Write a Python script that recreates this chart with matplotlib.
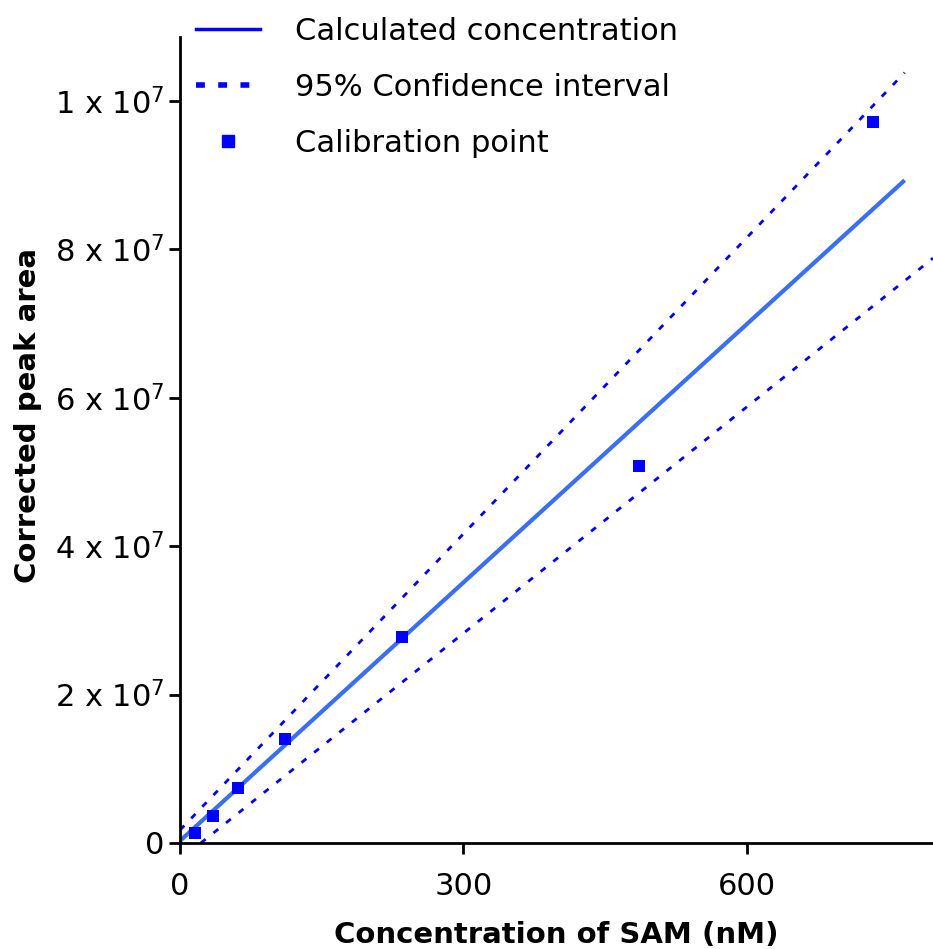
import matplotlib
matplotlib.use("Agg")
import matplotlib.pyplot as plt
from matplotlib.lines import Line2D
import numpy as np

# calibration data
sam_conc = [16, 35, 61, 111, 235, 486, 733]
peak_area = [1.35e6, 3.6e6, 7.4e6, 1.40e7, 2.78e7, 5.08e7, 9.72e7]

fit_x = [0, 767]
fit_y = [3.0e5, 8.93e7]
upper_x = [0, 767]
upper_y = [1.75e6, 1.038e8]
lower_x = [22, 797]
lower_y = [0, 7.88e7]

y_ticks = [0, 2e7, 4e7, 6e7, 8e7, 1e8]
y_tick_labels = ["0", r"2 x 10$^7$", r"4 x 10$^7$", r"6 x 10$^7$", r"8 x 10$^7$", r"1 x 10$^7$"]
x_ticks = [0, 300, 600]

plt.rcParams['font.family'] = ['DejaVu Sans']
plt.rcParams['mathtext.fontset'] = 'dejavusans'

fig = plt.figure(figsize=(9.33, 9.49), dpi=100)
ax = fig.add_axes([0.193, 0.1117, 0.807, 0.8493])

ax.plot(fit_x, fit_y, color='#3a6ef5', lw=3, solid_capstyle='butt')
dots = (0, (2.2, 3.6))
ax.plot(upper_x, upper_y, color='#0000ff', lw=2, linestyle=dots)
ax.plot(lower_x, lower_y, color='#0000ff', lw=2, linestyle=dots)
ax.scatter(sam_conc, peak_area, marker='s', s=80, color='#0000ff', zorder=3, linewidths=0)

ax.set_xlim(0, 797)
ax.set_ylim(0, 1.086e8)
ax.set_xticks(x_ticks)
ax.set_yticks(y_ticks)
ax.set_yticklabels(y_tick_labels)

for s in ['top', 'right']:
    ax.spines[s].set_visible(False)
for s in ['left', 'bottom']:
    ax.spines[s].set_linewidth(2)
ax.tick_params(axis='both', width=2, length=8, labelsize=22)
ax.tick_params(axis='x', pad=13)
ax.tick_params(axis='y', pad=3)

ax.set_xlabel('Concentration of SAM (nM)', fontsize=21, fontweight='bold', labelpad=14)
ax.set_ylabel('Corrected peak area', fontsize=21, fontweight='bold')
ax.yaxis.set_label_coords(-0.183, 0.53)

handles = [
    Line2D([], [], color='#0000ff', lw=2.5),
    Line2D([], [], color='#0000ff', lw=4, linestyle=(0, (1.6, 2.4))),
    Line2D([], [], color='#0000ff', lw=0, marker='s', markersize=8),
]
labels = ['Calculated concentration', '95% Confidence interval', 'Calibration point']
fig.legend(handles, labels, loc='upper left', bbox_to_anchor=(0.197, 0.995),
           frameon=False, fontsize=22, handlelength=2.1, handletextpad=1.15,
           labelspacing=0.88, borderaxespad=0)

fig.savefig('out.png', dpi=100)
